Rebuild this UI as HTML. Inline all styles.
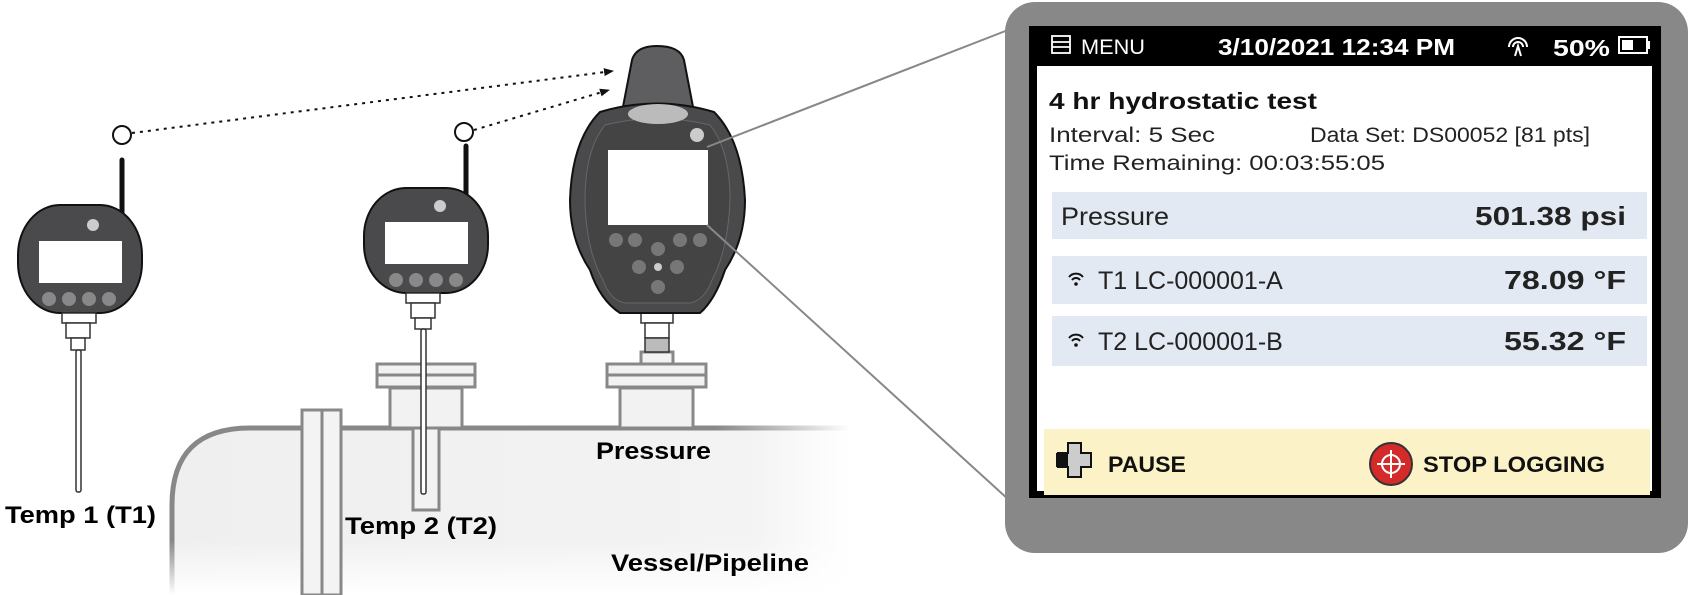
<!DOCTYPE html>
<html><head><meta charset="utf-8"><style>
html,body{margin:0;padding:0;background:#fff;}
body{width:1691px;height:595px;position:relative;overflow:hidden;font-family:"Liberation Sans",sans-serif;}
</style></head><body>
<svg width="1691" height="595" viewBox="0 0 1691 595" xmlns="http://www.w3.org/2000/svg" style="position:absolute;left:0;top:0">
<defs>
<linearGradient id="vf" x1="0" y1="0" x2="1" y2="0">
<stop offset="0" stop-color="#efefef"/><stop offset="0.85" stop-color="#f3f3f3"/><stop offset="1" stop-color="#fff"/>
</linearGradient>
<linearGradient id="vb" x1="0" y1="0" x2="0" y2="1">
<stop offset="0" stop-color="#fff" stop-opacity="0"/><stop offset="1" stop-color="#fff" stop-opacity="1"/>
</linearGradient>
<linearGradient id="vl" x1="0" y1="0" x2="1" y2="0">
<stop offset="0" stop-color="#888"/><stop offset="0.8" stop-color="#888"/><stop offset="1" stop-color="#888" stop-opacity="0"/>
</linearGradient>
<marker id="ah" markerWidth="10" markerHeight="8" refX="9" refY="4" orient="auto" markerUnits="userSpaceOnUse"><path d="M0,0 L10,4 L0,8 Z" fill="#111"/></marker>
</defs>
<path d="M172,595 L172,505 Q172,428 250,428 L850,428 L850,595 Z" fill="url(#vf)"/>
<path d="M172,595 L172,505 Q172,428 250,428 L850,428" fill="none" stroke="url(#vl)" stroke-width="5"/>
<rect x="160" y="540" width="700" height="55" fill="url(#vb)"/>
<rect x="302" y="410" width="20" height="185" fill="#f3f3f3" stroke="#888" stroke-width="3"/>
<rect x="322" y="410" width="19" height="185" fill="#f3f3f3" stroke="#888" stroke-width="3"/>
<g fill="#f2f2f2" stroke="#888" stroke-width="3">
<rect x="390" y="388" width="72" height="40"/><rect x="377" y="364" width="98" height="11"/><rect x="377" y="375" width="98" height="12"/>
<rect x="620" y="388" width="73" height="40"/><rect x="607" y="364" width="99" height="11"/><rect x="607" y="375" width="99" height="12"/>
<rect x="641" y="352" width="32" height="12"/>
<rect x="413" y="428" width="26" height="82"/>
</g>
<line x1="122" y1="160" x2="122" y2="221" stroke="#111" stroke-width="5" stroke-linecap="round"/>
<circle cx="122" cy="135" r="9" fill="#fff" stroke="#111" stroke-width="2"/>
<rect x="18" y="205" width="124" height="108" rx="42" ry="50" fill="#4a4a4c" stroke="#111" stroke-width="2"/>
<rect x="39" y="241" width="83" height="42" fill="#fff"/>
<circle cx="93" cy="225" r="6" fill="#ccc"/>
<g fill="#888"><circle cx="49" cy="299" r="7"/><circle cx="69" cy="299" r="7"/><circle cx="89" cy="299" r="7"/><circle cx="109" cy="299" r="7"/></g>
<g fill="#fff" stroke="#333" stroke-width="1.5">
<rect x="62" y="313" width="34" height="10"/><rect x="66" y="323" width="24" height="15"/><rect x="71" y="338" width="14" height="12"/>
<rect x="76" y="350" width="5" height="142" rx="2"/>
</g>
<line x1="466" y1="146" x2="466" y2="205" stroke="#111" stroke-width="5" stroke-linecap="round"/>
<circle cx="464" cy="132" r="9" fill="#fff" stroke="#111" stroke-width="2"/>
<rect x="364" y="188" width="124" height="105" rx="42" ry="48" fill="#4a4a4c" stroke="#111" stroke-width="2"/>
<rect x="385" y="222" width="83" height="42" fill="#fff"/>
<circle cx="440" cy="206" r="6" fill="#ccc"/>
<g fill="#888"><circle cx="396" cy="280" r="7"/><circle cx="416" cy="280" r="7"/><circle cx="436" cy="280" r="7"/><circle cx="456" cy="280" r="7"/></g>
<g fill="#fff" stroke="#333" stroke-width="1.5">
<rect x="406" y="293" width="34" height="10"/><rect x="411" y="303" width="24" height="15"/><rect x="415" y="318" width="16" height="11"/>
<rect x="421" y="329" width="5" height="165" rx="2"/>
</g>
<g fill="#fff" stroke="#333" stroke-width="1.5"><rect x="641" y="313" width="32" height="10"/><rect x="645" y="323" width="24" height="15"/><rect x="645" y="338" width="24" height="14" fill="#bbb"/></g>
<path d="M622,112 L632,60 Q636,46 657,46 Q680,46 684,60 L694,112 Z" fill="#5e5e60" stroke="#111" stroke-width="2"/>
<path d="M600,112 Q657,95 714,112 Q742,140 745,200 Q745,240 725,270 Q715,300 700,313 L620,313 Q600,300 590,270 Q570,240 570,200 Q572,140 600,112 Z" fill="#4a4a4c" stroke="#111" stroke-width="2"/>
<path d="M605,125 Q657,112 710,125 Q730,150 730,200 Q728,250 712,280 Q705,300 690,303 L625,303 Q610,300 603,280 Q586,250 585,200 Q585,150 605,125 Z" fill="#444" stroke="#666" stroke-width="1"/>
<ellipse cx="658" cy="114" rx="30" ry="10" fill="#bbb"/>
<circle cx="697" cy="135" r="7" fill="#ccc"/>
<rect x="608" y="150" width="100" height="75" fill="#fff"/>
<g fill="#777"><circle cx="616" cy="240" r="7"/><circle cx="635" cy="240" r="7"/><circle cx="680" cy="240" r="7"/><circle cx="700" cy="240" r="7"/>
<circle cx="658" cy="249" r="7"/><circle cx="639" cy="267" r="7"/><circle cx="677" cy="267" r="7"/><circle cx="658" cy="287" r="7"/></g>
<circle cx="658" cy="267" r="4" fill="#ccc"/>
<line x1="132" y1="133" x2="613" y2="71" stroke="#111" stroke-width="2" stroke-dasharray="3,5" marker-end="url(#ah)"/>
<line x1="474" y1="130" x2="609" y2="90" stroke="#111" stroke-width="2" stroke-dasharray="3,5" marker-end="url(#ah)"/>
<line x1="707" y1="147" x2="1008" y2="30" stroke="#888" stroke-width="2"/>
<line x1="707" y1="225" x2="1009" y2="500" stroke="#888" stroke-width="2"/>
<g font-family="Liberation Sans, sans-serif" font-weight="bold" font-size="24" fill="#000" lengthAdjust="spacingAndGlyphs">
<text x="5" y="523" textLength="151" lengthAdjust="spacingAndGlyphs">Temp 1 (T1)</text>
<text x="345" y="534" textLength="152" lengthAdjust="spacingAndGlyphs">Temp 2 (T2)</text>
<text x="596" y="459" textLength="115" lengthAdjust="spacingAndGlyphs">Pressure</text>
<text x="611" y="571" textLength="198" lengthAdjust="spacingAndGlyphs">Vessel/Pipeline</text>
</g>
<rect x="1005" y="2" width="683" height="551" rx="30" fill="#888"/>
<rect x="1029" y="26" width="632" height="472" fill="#000"/>
<rect x="1037" y="66" width="615" height="425" fill="#fff"/>
<g stroke="#fff" stroke-width="1.8" fill="none"><rect x="1052" y="36" width="18" height="17"/><line x1="1052" y1="42" x2="1070" y2="42"/><line x1="1052" y1="47" x2="1070" y2="47"/></g>
<g font-family="Liberation Sans, sans-serif" fill="#fff">
<text x="1081" y="54" font-size="21" textLength="64" lengthAdjust="spacingAndGlyphs">MENU</text>
<text x="1218" y="55" font-size="23" font-weight="bold" textLength="237" lengthAdjust="spacingAndGlyphs">3/10/2021 12:34 PM</text>
<text x="1553" y="56" font-size="23" font-weight="bold" textLength="57" lengthAdjust="spacingAndGlyphs">50%</text>
</g>
<g stroke="#fff" stroke-width="2" fill="none"><path d="M1509,47 a9,9 0 1 1 18,0"/><path d="M1513,47 a5,5 0 1 1 10,0"/><path d="M1515,56 L1518,46 L1521,56"/></g>
<rect x="1619" y="37" width="28" height="16" fill="none" stroke="#fff" stroke-width="2"/><rect x="1647" y="41" width="3" height="8" fill="#fff"/><rect x="1622" y="40" width="11" height="10" fill="#fff"/>
<g font-family="Liberation Sans, sans-serif" fill="#222">
<text x="1049" y="109" font-size="23" font-weight="bold" fill="#111" textLength="268" lengthAdjust="spacingAndGlyphs">4 hr hydrostatic test</text>
<text x="1049" y="142" font-size="21" textLength="166" lengthAdjust="spacingAndGlyphs">Interval: 5 Sec</text>
<text x="1310" y="142" font-size="21" textLength="280" lengthAdjust="spacingAndGlyphs">Data Set: DS00052 [81 pts]</text>
<text x="1049" y="170" font-size="21" textLength="336" lengthAdjust="spacingAndGlyphs">Time Remaining: 00:03:55:05</text>
</g>
<rect x="1052" y="192" width="595" height="47" fill="#e3e9f2"/>
<rect x="1052" y="256" width="595" height="48" fill="#e3e9f2"/>
<rect x="1052" y="316" width="595" height="50" fill="#e3e9f2"/>
<g font-family="Liberation Sans, sans-serif" font-size="25" fill="#222">
<text x="1061" y="225" textLength="108" lengthAdjust="spacingAndGlyphs">Pressure</text>
<text x="1098" y="289">T1 LC-000001-A</text>
<text x="1098" y="350">T2 LC-000001-B</text>
<g font-weight="bold" font-size="26">
<text x="1475" y="225" textLength="151" lengthAdjust="spacingAndGlyphs">501.38 psi</text>
<text x="1504" y="289" textLength="122" lengthAdjust="spacingAndGlyphs">78.09 °F</text>
<text x="1504" y="350" textLength="122" lengthAdjust="spacingAndGlyphs">55.32 °F</text></g>
</g>
<g fill="none" stroke="#111" stroke-width="2"><path d="M1069,277 a9,9 0 0 1 14,0"/><path d="M1072,280 a5,5 0 0 1 8,0"/><path d="M1069,338 a9,9 0 0 1 14,0"/><path d="M1072,341 a5,5 0 0 1 8,0"/></g>
<circle cx="1076" cy="284" r="1.8" fill="#111"/><circle cx="1076" cy="345" r="1.8" fill="#111"/>
<rect x="1044" y="429" width="606" height="66" fill="#fcf2c8"/>
<path d="M1068,453 v-10 h13 v10 h10 v14 h-10 v10 h-13 v-10 h-10 v-14 z" fill="#ccc" stroke="#111" stroke-width="2"/>
<rect x="1056" y="453" width="12" height="14" fill="#111"/>
<g font-family="Liberation Sans, sans-serif" font-weight="bold" font-size="22" fill="#111">
<text x="1108" y="472" textLength="78" lengthAdjust="spacingAndGlyphs">PAUSE</text><text x="1423" y="472" textLength="182" lengthAdjust="spacingAndGlyphs">STOP LOGGING</text>
</g>
<circle cx="1391" cy="464" r="21" fill="#d42a2a" stroke="#333" stroke-width="2"/>
<circle cx="1391" cy="464" r="9" fill="none" stroke="#fff" stroke-width="2"/>
<line x1="1391" y1="450" x2="1391" y2="478" stroke="#fff" stroke-width="2"/><line x1="1377" y1="464" x2="1405" y2="464" stroke="#fff" stroke-width="2"/>
</svg>
</body></html>
